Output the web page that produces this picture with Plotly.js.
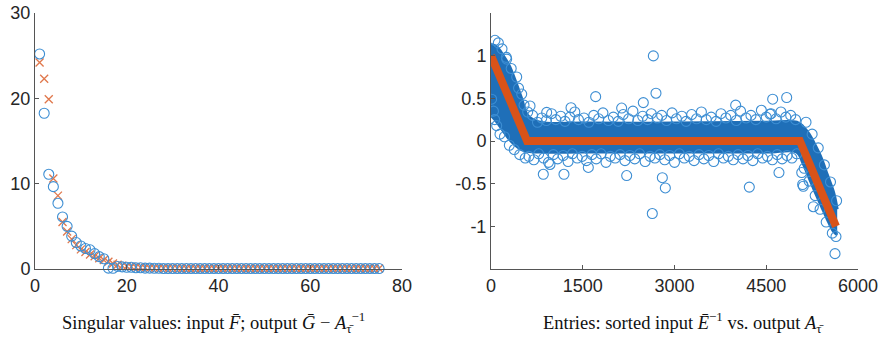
<!DOCTYPE html>
<html><head><meta charset="utf-8">
<script src="https://cdn.plot.ly/plotly-3.0.1.min.js"></script>
<style>html,body{margin:0;padding:0;background:#fff}#chart{width:883px;height:338px}</style>
</head><body><div id="chart"></div>
<script>
// ---- Left panel: singular values ----
const svIndex = [1,2,3,4,5,6,7,8,9,10,11,12,13,14,15,16,17,18,19,20,21,22,23,24,25,26,27,28,29,30,31,32,33,34,35,36,37,38,39,40,41,42,43,44,45,46,47,48,49,50,51,52,53,54,55,56,57,58,59,60,61,62,63,64,65,66,67,68,69,70,71,72,73,74,75];
const svInput = [25.2,18.25,11.1,9.65,7.7,6.1,5.0,3.85,3.1,2.7,2.4,2.25,1.8,1.45,1.2,0.1,0.08,0.3,0.25,0.2,0.2,0.15,0.15,0.1,0.1,0.08,0.08,0.06,0.06,0.05,0.05,0.05,0.05,0.05,0.05,0.05,0.05,0.05,0.05,0.05,0.05,0.05,0.05,0.05,0.05,0.05,0.05,0.05,0.05,0.05,0.05,0.05,0.05,0.05,0.05,0.05,0.05,0.05,0.05,0.05,0.05,0.05,0.05,0.05,0.05,0.05,0.05,0.05,0.05,0.05,0.05,0.05,0.05,0.05,0.05];
const svOutput = [24.2,22.3,19.9,10.6,8.6,5.5,4.4,3.5,2.8,2.3,2.0,1.7,1.5,1.25,1.05,0.85,0.65,0.5,0.4,0.33,0.27,0.22,0.18,0.15,0.12,0.1,0.09,0.08,0.08,0.07,0.07,0.06,0.06,0.06,0.06,0.05,0.05,0.05,0.05,0.05,0.05,0.05,0.05,0.05,0.05,0.05,0.05,0.05,0.05,0.05,0.05,0.05,0.05,0.05,0.05,0.05,0.05,0.05,0.05,0.05,0.05,0.05,0.05,0.05,0.05,0.05,0.05,0.05,0.05,0.05,0.05,0.05,0.05,0.05,0.05];

// ---- Right panel: entries ----
// dense cloud envelope
const cloudX     = [0,100,200,300,400,500,600,800,1500,3000,4500,5000,5100,5200,5300,5400,5500,5600,5660];
const cloudUpper = [1.13,1.1,1.0,0.88,0.7,0.5,0.3,0.22,0.21,0.21,0.22,0.22,0.17,0.08,-0.05,-0.2,-0.4,-0.6,-0.8];
const cloudLower = [0.3,0.22,0.12,0.02,-0.05,-0.1,-0.12,-0.13,-0.13,-0.13,-0.13,-0.13,-0.26,-0.43,-0.6,-0.76,-0.92,-1.06,-1.1];
// visible circles along the top edge of the flat band
const edgeTopX = [680,760,830,905,990,1060,1140,1210,1290,1370,1430,1520,1600,1680,1760,1830,1920,2000,2080,2160,2250,2320,2400,2480,2560,2620,2720,2790,2870,2960,3030,3120,3190,3280,3360,3440,3520,3600,3680,3760,3840,3920,4010,4080,4170,4250,4330,4420,4500,4580,4660,4740,4820,4900,4980];
const edgeTopY = [0.3,0.22,0.27,0.24,0.32,0.25,0.29,0.23,0.28,0.34,0.25,0.27,0.22,0.3,0.26,0.33,0.24,0.28,0.23,0.31,0.26,0.35,0.24,0.29,0.25,0.32,0.27,0.3,0.24,0.33,0.26,0.29,0.23,0.31,0.26,0.34,0.25,0.28,0.23,0.32,0.27,0.3,0.24,0.35,0.27,0.3,0.25,0.36,0.28,0.32,0.26,0.34,0.28,0.3,0.25];
// visible circles along the bottom edge of the flat band
const edgeBotX = [620,700,780,860,940,1020,1090,1180,1260,1330,1410,1490,1560,1650,1720,1800,1880,1950,2030,2110,2190,2270,2350,2430,2520,2600,2680,2760,2840,2920,3000,3080,3160,3240,3320,3400,3480,3560,3640,3720,3800,3880,3960,4040,4120,4200,4280,4360,4440,4520,4600,4680,4760,4840,4920,5000];
const edgeBotY = [-0.18,-0.22,-0.15,-0.2,-0.25,-0.16,-0.21,-0.17,-0.24,-0.15,-0.2,-0.18,-0.23,-0.16,-0.21,-0.15,-0.25,-0.18,-0.2,-0.16,-0.23,-0.17,-0.21,-0.15,-0.24,-0.18,-0.2,-0.16,-0.22,-0.17,-0.25,-0.15,-0.2,-0.18,-0.23,-0.16,-0.21,-0.17,-0.24,-0.15,-0.2,-0.18,-0.22,-0.16,-0.21,-0.17,-0.23,-0.15,-0.2,-0.18,-0.22,-0.16,-0.21,-0.17,-0.2,-0.15];
// circles along the two sloping parts and isolated outliers
const slopeX = [120,180,250,330,450,540,600,10,40,60,93,147,220,300,380,470,560,5150,5250,5350,5450,5550,5650,5120,5200,5300,5380,5480,5580,5640];
const slopeY = [1.15,1.08,0.98,0.85,0.62,0.42,0.34,0.49,0.35,0.25,0.18,0.08,0.05,-0.05,-0.1,-0.16,-0.2,0.22,0.08,-0.08,-0.28,-0.48,-0.7,-0.32,-0.47,-0.64,-0.8,-0.95,-1.08,-1.12];
const outlierX = [65,256,420,502,638,910,1308,1711,2136,2490,2654,2697,4000,4561,4605,4834,855,1193,2218,2801,2850,2637,4223,4708,964,1591,5080,5095,5106,5270,5624];
const outlierY = [1.18,0.96,0.75,0.55,0.41,0.335,0.39,0.52,0.386,0.45,0.997,0.56,0.42,0.315,0.49,0.51,-0.39,-0.39,-0.405,-0.43,-0.55,-0.85,-0.54,-0.37,-0.275,-0.31,-0.37,-0.51,-0.53,-0.77,-1.32];
// output A_tau: piecewise-linear target
const outX = [0,590,5050,5640];
const outY = [1.0,0.0,0.0,-1.0];

const leftTicksX = [0,20,40,60,80], leftTicksY = [0,10,20,30];
const rightTicksX = [0,1500,3000,4500,6000], rightTicksY = [-1,-0.5,0,0.5,1];
const rightTickTextY = ['-1','-0.5','0','0.5','1'];

const BLUE = '#3d8ed3', ORANGE = '#e0774b', DENSE = '#1f6fb8', ORANGE_LINE = '#d95319';
const tickFont = {family:'Liberation Sans, Arial, sans-serif', size:18, color:'#262626'};
const axisBase = {showline:true, linecolor:'#555', linewidth:1, ticks:'inside', ticklen:4, tickcolor:'#555',
  showgrid:false, zeroline:false, mirror:false, tickfont:tickFont, fixedrange:true};
const circle = {symbol:'circle-open', size:10, color:BLUE, line:{color:BLUE, width:1.1}};

const traces = [
  {x:svIndex, y:svOutput, type:'scatter', mode:'markers', xaxis:'x', yaxis:'y',
   marker:{symbol:'x-thin-open', size:8, color:ORANGE, line:{color:ORANGE, width:1.3}}, cliponaxis:false},
  {x:svIndex, y:svInput, type:'scatter', mode:'markers', xaxis:'x', yaxis:'y', marker:circle, cliponaxis:false},
  {x:cloudX, y:cloudLower, type:'scatter', mode:'lines', xaxis:'x2', yaxis:'y2',
   line:{color:DENSE, width:3, shape:'spline'}},
  {x:cloudX, y:cloudUpper, type:'scatter', mode:'lines', xaxis:'x2', yaxis:'y2', fill:'tonexty', fillcolor:DENSE,
   line:{color:DENSE, width:3, shape:'spline'}},
  {x:edgeTopX, y:edgeTopY, type:'scatter', mode:'markers', xaxis:'x2', yaxis:'y2', marker:circle},
  {x:edgeBotX, y:edgeBotY, type:'scatter', mode:'markers', xaxis:'x2', yaxis:'y2', marker:circle},
  {x:slopeX, y:slopeY, type:'scatter', mode:'markers', xaxis:'x2', yaxis:'y2', marker:circle},
  {x:outlierX, y:outlierY, type:'scatter', mode:'markers', xaxis:'x2', yaxis:'y2', marker:circle},
  {x:outX, y:outY, type:'scatter', mode:'lines', xaxis:'x2', yaxis:'y2',
   line:{color:ORANGE_LINE, width:8}}
];

const capFont = {family:'Liberation Serif, Times New Roman, serif', size:18.5, color:'#111'};
const layout = {
  width:883, height:338, margin:{l:0,r:0,t:0,b:0}, paper_bgcolor:'#fff', plot_bgcolor:'rgba(0,0,0,0)',
  showlegend:false,
  xaxis:Object.assign({}, axisBase, {domain:[35/883, 402/883], range:[0,80], tickvals:leftTicksX, anchor:'y'}),
  yaxis:Object.assign({}, axisBase, {domain:[1-269/338, 1-13/338], range:[0,30], tickvals:leftTicksY, anchor:'x'}),
  xaxis2:Object.assign({}, axisBase, {domain:[491/883, 858/883], range:[0,6000], tickvals:rightTicksX, anchor:'y2'}),
  yaxis2:Object.assign({}, axisBase, {domain:[1-269/338, 1-13/338], range:[-1.5,1.5], tickvals:rightTicksY, ticktext:rightTickTextY, anchor:'x2'}),
  annotations:[
    {xref:'paper', yref:'paper', x:213/883, y:1-322/338, xanchor:'center', yanchor:'middle', showarrow:false, font:capFont,
     text:'Singular values: input <i>F\u0304</i>; output <i>\u1E20</i> \u2212 <i>A</i><sub>\u03C4\u0304</sub><sup>\u22121</sup>'},
    {xref:'paper', yref:'paper', x:683/883, y:1-322/338, xanchor:'center', yanchor:'middle', showarrow:false, font:capFont,
     text:'Entries: sorted input <i>\u0112</i><sup>\u22121</sup> vs. output <i>A</i><sub>\u03C4\u0304</sub>'}
  ]
};
Plotly.newPlot('chart', traces, layout, {staticPlot:true, displayModeBar:false});
</script></body></html>
